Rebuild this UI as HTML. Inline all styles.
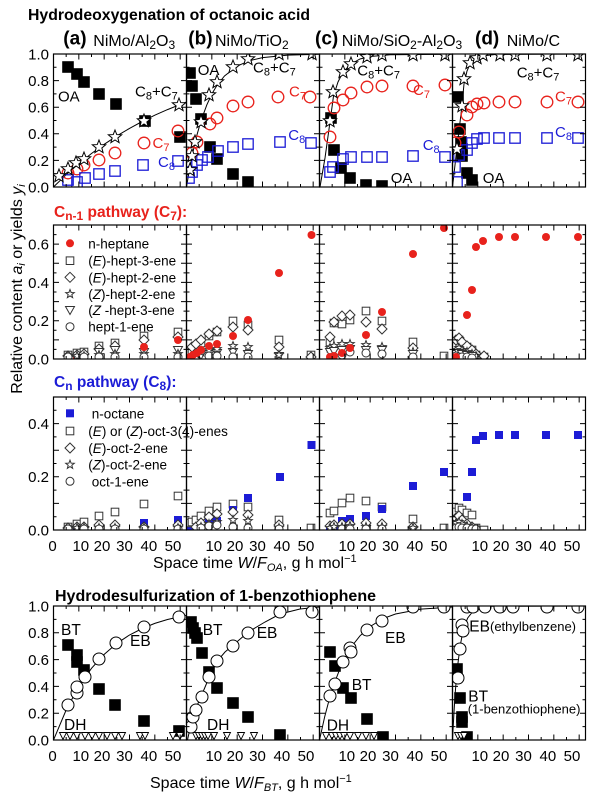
<!DOCTYPE html>
<html><head><meta charset="utf-8"><style>
html,body{margin:0;padding:0;background:#fff}
svg text{font-family:"Liberation Sans",Arial,sans-serif}
.ln{fill:none;stroke:#000;stroke-width:1}
</style></head><body>
<svg xmlns="http://www.w3.org/2000/svg" width="600" height="801" viewBox="0 0 600 801">
<defs>
<rect id="BS" x="-5.8" y="-5.8" width="11.6" height="11.6" fill="#000"/>
<circle id="RC" r="5.8" fill="none" stroke="#e8221c" stroke-width="1.3"/>
<rect id="BQ" x="-5.2" y="-5.2" width="10.4" height="10.4" fill="none" stroke="#1c1cd6" stroke-width="1.3"/>
<path id="ST" d="M0-7L1.76-2.43L6.66-2.16L2.85 .93L4.11 5.66L0 3L-4.11 5.66L-2.85 .93L-6.66-2.16L-1.76-2.43Z" fill="#fff" stroke="#000" stroke-width="1"/>
<circle id="WC" r="6" fill="#fff" stroke="#000" stroke-width="1"/>
<circle id="rd" r="4" fill="#e8221c"/>
<rect id="sq" x="-3.8" y="-3.8" width="7.6" height="7.6" fill="#fff" stroke="#333" stroke-width="1"/>
<path id="dm" d="M0-5L5 0L0 5L-5 0Z" fill="#fff" stroke="#333" stroke-width="1"/>
<path id="ss" d="M0-4.5L1.12-1.54L4.28-1.39L1.81 .59L2.65 3.64L0 1.9L-2.65 3.64L-1.81 .59L-4.28-1.39L-1.12-1.54Z" fill="#fff" stroke="#333" stroke-width="1"/>
<path id="tr" d="M-4.5-3.5H4.5L0 4.5Z" fill="#fff" stroke="#333" stroke-width="1"/>
<circle id="sc" r="4" fill="#fff" stroke="#333" stroke-width="1"/>
<rect id="bf" x="-4" y="-4" width="8" height="8" fill="#1c1cd6"/>
<path id="dh" d="M-3.5-3.5H3.5L0 3.5Z" fill="#fff" stroke="#000" stroke-width=".9"/>
<path id="xt" d="M12.67 0v-3M25.33 0v-5.5M38 0v-3M50.67 0v-5.5M63.33 0v-3M76 0v-5.5M88.67 0v-3M101.33 0v-5.5M114 0v-3M126.67 0v-5.5"/>
<path id="yt1" d="M0-13.3h3M0-26.6h5.5M0-39.9h3M0-53.2h5.5M0-66.5h3M0-79.8h5.5M0-93.1h3M0-106.4h5.5M0-119.7h3"/>
<path id="yt4" d="M0-13.4h3M0-26.8h5.5M0-40.2h3M0-53.6h5.5M0-67h3M0-80.4h5.5M0-93.8h3M0-107.2h5.5M0-120.6h3"/>
<path id="yt2" d="M0-9.57h3M0-19.14h5.5M0-28.71h3M0-38.29h5.5M0-47.86h3M0-57.43h5.5M0-67h3M0-76.57h5.5M0-86.14h3M0-95.71h5.5M0-105.29h3M0-114.86h5.5M0-124.43h3"/>
<g id="tk1"><use href="#xt"/><use href="#xt" transform="translate(0,-133) scale(1,-1)"/><use href="#yt1"/><use href="#yt1" transform="translate(133,0) scale(-1,1)"/><rect x="0" y="-133" width="133" height="133" fill="none" stroke-width="1.2"/></g>
<g id="tk2"><use href="#xt"/><use href="#xt" transform="translate(0,-134) scale(1,-1)"/><use href="#yt2"/><use href="#yt2" transform="translate(133,0) scale(-1,1)"/><rect x="0" y="-134" width="133" height="134" fill="none" stroke-width="1.2"/></g>
<g id="tk4"><use href="#xt"/><use href="#xt" transform="translate(0,-134) scale(1,-1)"/><use href="#yt4"/><use href="#yt4" transform="translate(133,0) scale(-1,1)"/><rect x="0" y="-134" width="133" height="134" fill="none" stroke-width="1.2"/></g>
</defs>
<rect width="600" height="801" fill="#fff"/>

<!-- Titles -->
<text x="28" y="20" font-weight="bold" font-size="16" textLength="282" lengthAdjust="spacingAndGlyphs">Hydrodeoxygenation of octanoic acid</text>
<text x="63.3" y="44.5" font-weight="bold" font-size="19">(a)</text>
<text x="93.3" y="46" font-size="16">NiMo/Al<tspan font-size="12" dy="3">2</tspan><tspan dy="-3">O</tspan><tspan font-size="12" dy="3">3</tspan></text>
<text x="188.3" y="44.5" font-weight="bold" font-size="19">(b)</text>
<text x="215" y="46" font-size="16">NiMo/TiO<tspan font-size="12" dy="3">2</tspan></text>
<text x="315" y="44.5" font-weight="bold" font-size="19">(c)</text>
<text x="341.7" y="46" font-size="16">NiMo/SiO<tspan font-size="12" dy="3">2</tspan><tspan dy="-3">-Al</tspan><tspan font-size="12" dy="3">2</tspan><tspan dy="-3">O</tspan><tspan font-size="12" dy="3">3</tspan></text>
<text x="475" y="44.5" font-weight="bold" font-size="19">(d)</text>
<text x="506.7" y="46" font-size="16">NiMo/C</text>

<!-- Y tick labels -->
<g font-size="15" text-anchor="end">
<text x="49" y="59.4">1.0</text><text x="49" y="86">0.8</text><text x="49" y="112.6">0.6</text><text x="49" y="139.2">0.4</text><text x="49" y="165.8">0.2</text><text x="49" y="192.4">0.0</text>
<text x="49" y="249.5">0.6</text><text x="49" y="287.8">0.4</text><text x="49" y="326.1">0.2</text><text x="49" y="364.4">0.0</text>
<text x="49" y="429">0.4</text><text x="49" y="482.2">0.2</text><text x="49" y="535.4">0.0</text>
<text x="49" y="611.4">1.0</text><text x="49" y="638.2">0.8</text><text x="49" y="665">0.6</text><text x="49" y="691.8">0.4</text><text x="49" y="718.6">0.2</text><text x="49" y="745.4">0.0</text>
</g>

<!-- X tick labels -->
<g font-size="15" text-anchor="middle">
<text x="52.5" y="551">0</text><text x="80.8" y="551">10</text><text x="102" y="551">20</text><text x="124.5" y="551">30</text><text x="148.9" y="551">40</text><text x="173" y="551">50</text>
<text x="213.8" y="551">10</text><text x="235" y="551">20</text><text x="257.5" y="551">30</text><text x="281.9" y="551">40</text><text x="306" y="551">50</text>
<text x="346.8" y="551">10</text><text x="368" y="551">20</text><text x="390.5" y="551">30</text><text x="414.9" y="551">40</text><text x="439" y="551">50</text>
<text x="479.8" y="551">10</text><text x="501" y="551">20</text><text x="523.5" y="551">30</text><text x="547.9" y="551">40</text><text x="572" y="551">50</text>
<text x="52.5" y="761">0</text><text x="80.8" y="761">10</text><text x="102" y="761">20</text><text x="124.5" y="761">30</text><text x="148.9" y="761">40</text><text x="173" y="761">50</text>
<text x="213.8" y="761">10</text><text x="235" y="761">20</text><text x="257.5" y="761">30</text><text x="281.9" y="761">40</text><text x="306" y="761">50</text>
<text x="346.8" y="761">10</text><text x="368" y="761">20</text><text x="390.5" y="761">30</text><text x="414.9" y="761">40</text><text x="439" y="761">50</text>
<text x="479.8" y="761">10</text><text x="501" y="761">20</text><text x="523.5" y="761">30</text><text x="547.9" y="761">40</text><text x="572" y="761">50</text>
</g>

<!-- axis titles -->
<text transform="translate(22,289) rotate(-90)" text-anchor="middle" font-size="16">Relative content <tspan font-style="italic">a</tspan><tspan font-size="11" dy="3" font-style="italic">i</tspan><tspan dy="-3"> or yields </tspan><tspan font-style="italic">y</tspan><tspan font-size="11" dy="3" font-style="italic">i</tspan></text>
<text x="153" y="568" font-size="16">Space time <tspan font-style="italic">W</tspan>/<tspan font-style="italic">F</tspan><tspan font-size="11" dy="3" font-style="italic">OA</tspan><tspan dy="-3">, g h mol</tspan><tspan font-size="11" dy="-6">−1</tspan></text>
<text x="150" y="788" font-size="16">Space time <tspan font-style="italic">W</tspan>/<tspan font-style="italic">F</tspan><tspan font-size="11" dy="3" font-style="italic">BT</tspan><tspan dy="-3">, g h mol</tspan><tspan font-size="11" dy="-6">−1</tspan></text>

<text x="54" y="217" fill="#e8221c" font-weight="bold" font-size="15.5">C<tspan font-size="12" dy="3">n-1</tspan><tspan dy="-3"> pathway (C</tspan><tspan font-size="12" dy="3">7</tspan><tspan dy="-3">):</tspan></text>
<text x="54" y="387" fill="#1c1cd6" font-weight="bold" font-size="15.5">C<tspan font-size="12" dy="3">n</tspan><tspan dy="-3"> pathway (C</tspan><tspan font-size="12" dy="3">8</tspan><tspan dy="-3">):</tspan></text>
<text x="55" y="601" font-weight="bold" font-size="16" textLength="321" lengthAdjust="spacingAndGlyphs">Hydrodesulfurization of 1-benzothiophene</text>

<!-- ===== ROW 1 ===== -->
<svg x="53.5" y="54" width="133" height="133" viewBox="53.5 54 133 133">
<polyline class="ln" points="53.5,187 66.2,174.7 78.8,163.6 91.5,153.5 104.2,144.3 116.8,135.9 129.5,128.4 142.2,121.5 154.8,115.2 167.5,109.6 186.5,102"/>
<use href="#BS" x="68" y="67"/><use href="#BS" x="77" y="74"/><use href="#BS" x="84" y="82"/><use href="#BS" x="99" y="94"/><use href="#BS" x="116" y="104"/><use href="#BS" x="145" y="121"/><use href="#BS" x="180" y="137"/>
<use href="#RC" x="68" y="173"/><use href="#RC" x="77" y="169"/><use href="#RC" x="84" y="165"/><use href="#RC" x="99" y="160"/><use href="#RC" x="115" y="153"/><use href="#RC" x="144" y="143"/><use href="#RC" x="178" y="131"/>
<use href="#BQ" x="68" y="180"/><use href="#BQ" x="77" y="182"/><use href="#BQ" x="85" y="178"/><use href="#BQ" x="99" y="174"/><use href="#BQ" x="115" y="171"/><use href="#BQ" x="143" y="165"/><use href="#BQ" x="178" y="161"/>
<use href="#ST" x="59" y="176"/><use href="#ST" x="68" y="169"/><use href="#ST" x="76" y="163"/><use href="#ST" x="84" y="159"/><use href="#ST" x="99" y="147"/><use href="#ST" x="115" y="137"/><use href="#ST" x="144" y="121"/><use href="#ST" x="179" y="105"/>
</svg>
<svg x="186.5" y="54" width="133" height="133" viewBox="186.5 54 133 133">
<polyline class="ln" points="186.5,187 189,172 191.6,158.7 194.1,146.8 196.6,136.3 199.2,127 201.7,118.8 206.8,104.9 211.8,94 216.9,85.5 224.5,76 237.2,66.1 249.8,60.6 262.5,57.6 287.8,55.1 319.5,54.2"/>
<use href="#BS" x="190" y="73"/><use href="#BS" x="192" y="86"/><use href="#BS" x="196" y="99"/><use href="#BS" x="201" y="119"/><use href="#BS" x="210" y="147"/><use href="#BS" x="217" y="159"/><use href="#BS" x="233" y="174"/><use href="#BS" x="248" y="182"/>
<use href="#RC" x="192" y="153"/><use href="#RC" x="197" y="142"/><use href="#RC" x="210" y="124"/><use href="#RC" x="217" y="118"/><use href="#RC" x="233" y="106"/><use href="#RC" x="248" y="102"/><use href="#RC" x="278" y="97"/><use href="#RC" x="310" y="97"/>
<use href="#BQ" x="189" y="178"/><use href="#BQ" x="192" y="172"/><use href="#BQ" x="197" y="165"/><use href="#BQ" x="202" y="160"/><use href="#BQ" x="208" y="157"/><use href="#BQ" x="218" y="151"/><use href="#BQ" x="233" y="147"/><use href="#BQ" x="248" y="144"/><use href="#BQ" x="280" y="142"/><use href="#BQ" x="311" y="143"/>
<use href="#ST" x="190" y="170"/><use href="#ST" x="192" y="156"/><use href="#ST" x="195" y="142"/><use href="#ST" x="201" y="122"/><use href="#ST" x="209" y="95"/><use href="#ST" x="217" y="82"/><use href="#ST" x="233" y="67"/><use href="#ST" x="248" y="59"/><use href="#ST" x="279" y="54"/><use href="#ST" x="312" y="54"/>
</svg>
<svg x="319.5" y="54" width="133" height="133" viewBox="319.5 54 133 133">
<polyline class="ln" points="320,187 325,158 330,122 333.5,96 338,82 343,72 351,64 360,59 370,56.5 390,54.8 452.5,54.2"/>
<use href="#BS" x="331" y="118"/><use href="#BS" x="334" y="150"/><use href="#BS" x="341" y="168"/><use href="#BS" x="350" y="178"/><use href="#BS" x="366" y="185"/><use href="#BS" x="382" y="186"/>
<use href="#RC" x="330" y="137"/><use href="#RC" x="334" y="108"/><use href="#RC" x="343" y="100"/><use href="#RC" x="351" y="93"/><use href="#RC" x="367" y="87"/><use href="#RC" x="382" y="86"/><use href="#RC" x="413" y="86"/><use href="#RC" x="445" y="85"/>
<use href="#BQ" x="330" y="172"/><use href="#BQ" x="333" y="167"/><use href="#BQ" x="343" y="159"/><use href="#BQ" x="351" y="157"/><use href="#BQ" x="367" y="157"/><use href="#BQ" x="382" y="157"/><use href="#BQ" x="413" y="156"/><use href="#BQ" x="445" y="157"/>
<use href="#ST" x="330" y="121"/><use href="#ST" x="333" y="92"/><use href="#ST" x="343" y="72"/><use href="#ST" x="351" y="64"/><use href="#ST" x="367" y="57"/><use href="#ST" x="382" y="55"/><use href="#ST" x="413" y="55"/><use href="#ST" x="445" y="55"/>
</svg>
<svg x="452.5" y="54" width="133" height="133" viewBox="452.5 54 133 133">
<polyline class="ln" points="452.5,187 456.7,150 461.7,108 464,84 467,71 470,64 475,59 482,56 495,54.5 585.5,54"/>
<use href="#BS" x="458" y="97"/><use href="#BS" x="460" y="129"/><use href="#BS" x="461" y="142"/><use href="#BS" x="462" y="149"/><use href="#BS" x="462" y="156"/><use href="#BS" x="467" y="173"/><use href="#BS" x="472" y="180"/>
<use href="#RC" x="455" y="143"/><use href="#RC" x="459" y="132"/><use href="#RC" x="467" y="115"/><use href="#RC" x="472" y="107"/><use href="#RC" x="477" y="104"/><use href="#RC" x="484" y="103"/><use href="#RC" x="499" y="102"/><use href="#RC" x="515" y="102"/><use href="#RC" x="547" y="102"/><use href="#RC" x="578" y="102"/>
<use href="#BQ" x="455" y="167"/><use href="#BQ" x="457" y="182"/><use href="#BQ" x="459" y="155"/><use href="#BQ" x="467" y="150"/><use href="#BQ" x="472" y="143"/><use href="#BQ" x="477" y="139"/><use href="#BQ" x="484" y="138"/><use href="#BQ" x="499" y="138"/><use href="#BQ" x="515" y="138"/><use href="#BQ" x="547" y="138"/><use href="#BQ" x="578" y="138"/>
<use href="#ST" x="457" y="149"/><use href="#ST" x="462" y="106"/><use href="#ST" x="464" y="79"/><use href="#ST" x="470" y="63"/><use href="#ST" x="477" y="58"/><use href="#ST" x="483" y="55"/><use href="#ST" x="500" y="55"/><use href="#ST" x="515" y="55"/><use href="#ST" x="547" y="55"/><use href="#ST" x="578" y="55"/>
</svg>
<!-- row 1 labels -->
<g font-size="15">
<text x="58" y="101.7">OA</text>
<text x="135" y="96.5">C<tspan font-size="11" dy="3">8</tspan><tspan dy="-3">+C</tspan><tspan font-size="11" dy="3">7</tspan></text>
<text x="152.5" y="148" fill="#e8221c">C<tspan font-size="11" dy="3">7</tspan></text>
<text x="158" y="167" fill="#1c1cd6">C<tspan font-size="11" dy="3">8</tspan></text>
<text x="197.7" y="75">OA</text>
<text x="253" y="72.7">C<tspan font-size="11" dy="3">8</tspan><tspan dy="-3">+C</tspan><tspan font-size="11" dy="3">7</tspan></text>
<text x="289" y="96.7" fill="#e8221c">C<tspan font-size="11" dy="3">7</tspan></text>
<text x="288.3" y="140" fill="#1c1cd6">C<tspan font-size="11" dy="3">8</tspan></text>
<text x="357.3" y="75.5">C<tspan font-size="11" dy="3">8</tspan><tspan dy="-3">+C</tspan><tspan font-size="11" dy="3">7</tspan></text>
<text x="413" y="95" fill="#e8221c">C<tspan font-size="11" dy="3">7</tspan></text>
<text x="422.7" y="150" fill="#1c1cd6">C<tspan font-size="11" dy="3">8</tspan></text>
<text x="390.7" y="183">OA</text>
<text x="516.7" y="77.5">C<tspan font-size="11" dy="3">8</tspan><tspan dy="-3">+C</tspan><tspan font-size="11" dy="3">7</tspan></text>
<text x="555" y="101.5" fill="#e8221c">C<tspan font-size="11" dy="3">7</tspan></text>
<text x="555" y="137" fill="#1c1cd6">C<tspan font-size="11" dy="3">8</tspan></text>
<text x="482.7" y="183">OA</text>
</g>

<!-- ===== ROW 2 (C7) ===== -->
<svg x="53.5" y="225" width="133" height="134" viewBox="53.5 225 133 134">
<use href="#rd" x="68" y="358"/><use href="#rd" x="77" y="358"/><use href="#rd" x="84" y="358"/><use href="#rd" x="99" y="357"/><use href="#rd" x="115" y="357"/>
<use href="#sq" x="68" y="355"/><use href="#sq" x="77" y="353"/><use href="#sq" x="84" y="352"/><use href="#sq" x="99" y="346"/><use href="#sq" x="115" y="343"/><use href="#sq" x="144" y="336"/><use href="#sq" x="178" y="332"/>
<use href="#dm" x="68" y="356"/><use href="#dm" x="77" y="355"/><use href="#dm" x="84" y="354"/><use href="#dm" x="99" y="349"/><use href="#dm" x="115" y="346"/><use href="#dm" x="144" y="340"/><use href="#dm" x="178" y="337"/>
<use href="#tr" x="99" y="352"/><use href="#tr" x="115" y="350"/><use href="#tr" x="144" y="352"/><use href="#tr" x="178" y="350"/>
<use href="#ss" x="68" y="357"/><use href="#ss" x="77" y="356"/><use href="#ss" x="84" y="356"/><use href="#ss" x="99" y="355"/><use href="#ss" x="115" y="354"/><use href="#ss" x="144" y="354"/><use href="#ss" x="178" y="354"/>
<use href="#sc" x="68" y="357"/><use href="#sc" x="84" y="357"/><use href="#sc" x="99" y="357"/><use href="#sc" x="115" y="357"/><use href="#sc" x="144" y="357"/><use href="#sc" x="178" y="357"/>
<use href="#rd" x="144" y="347"/><use href="#rd" x="178" y="340"/>
</svg>
<svg x="186.5" y="225" width="133" height="134" viewBox="186.5 225 133 134">
<use href="#sq" x="190" y="353"/><use href="#sq" x="192" y="351"/><use href="#sq" x="196" y="348"/><use href="#sq" x="201" y="343"/><use href="#sq" x="209" y="336"/><use href="#sq" x="217" y="332"/><use href="#sq" x="233" y="321"/><use href="#sq" x="248" y="325"/><use href="#sq" x="279" y="340"/><use href="#sq" x="311" y="355"/>
<use href="#dm" x="192" y="347"/><use href="#dm" x="196" y="344"/><use href="#dm" x="201" y="340"/><use href="#dm" x="209" y="334"/><use href="#dm" x="217" y="331"/><use href="#dm" x="233" y="327"/><use href="#dm" x="248" y="330"/><use href="#dm" x="279" y="347"/><use href="#dm" x="311" y="357"/>
<use href="#tr" x="201" y="355"/><use href="#tr" x="209" y="354"/><use href="#tr" x="217" y="353"/><use href="#tr" x="233" y="352"/><use href="#tr" x="248" y="354"/><use href="#tr" x="279" y="356"/>
<use href="#ss" x="196" y="354"/><use href="#ss" x="201" y="352"/><use href="#ss" x="209" y="350"/><use href="#ss" x="217" y="349"/><use href="#ss" x="233" y="346"/><use href="#ss" x="248" y="347"/><use href="#ss" x="279" y="355"/>
<use href="#sc" x="209" y="356"/><use href="#sc" x="217" y="356"/><use href="#sc" x="233" y="357"/><use href="#sc" x="248" y="357"/>
<use href="#rd" x="190" y="357"/><use href="#rd" x="193" y="355"/><use href="#rd" x="197" y="353"/><use href="#rd" x="201" y="350"/><use href="#rd" x="209" y="346"/><use href="#rd" x="217" y="344"/><use href="#rd" x="233" y="336"/><use href="#rd" x="248" y="320"/><use href="#rd" x="279" y="273"/><use href="#rd" x="311.5" y="235"/>
</svg>
<svg x="319.5" y="225" width="133" height="134" viewBox="319.5 225 133 134">
<use href="#sq" x="330" y="342"/><use href="#sq" x="334" y="323"/><use href="#sq" x="342" y="324"/><use href="#sq" x="350" y="320"/><use href="#sq" x="366" y="311"/><use href="#sq" x="382" y="321"/><use href="#sq" x="413" y="342"/><use href="#sq" x="444" y="356"/>
<use href="#dm" x="330" y="337"/><use href="#dm" x="334" y="322"/><use href="#dm" x="342" y="316"/><use href="#dm" x="350" y="315"/><use href="#dm" x="366" y="322"/><use href="#dm" x="382" y="329"/><use href="#dm" x="413" y="348"/>
<use href="#ss" x="330" y="348"/><use href="#ss" x="334" y="346"/><use href="#ss" x="342" y="344"/><use href="#ss" x="350" y="344"/><use href="#ss" x="366" y="345"/><use href="#ss" x="382" y="347"/><use href="#ss" x="413" y="352"/>
<use href="#tr" x="330" y="352"/><use href="#tr" x="334" y="351"/><use href="#tr" x="342" y="350"/><use href="#tr" x="350" y="349"/><use href="#tr" x="366" y="350"/><use href="#tr" x="382" y="350"/><use href="#tr" x="413" y="354"/>
<use href="#sc" x="342" y="355"/><use href="#sc" x="350" y="352"/><use href="#sc" x="366" y="353"/><use href="#sc" x="382" y="354"/><use href="#sc" x="413" y="357"/>
<use href="#rd" x="330" y="357"/><use href="#rd" x="334" y="356"/><use href="#rd" x="342" y="353"/><use href="#rd" x="350" y="348"/><use href="#rd" x="366" y="335"/><use href="#rd" x="382" y="312"/><use href="#rd" x="413" y="254"/><use href="#rd" x="444" y="228"/>
</svg>
<svg x="452.5" y="225" width="133" height="134" viewBox="452.5 225 133 134">
<use href="#sq" x="456" y="346"/><use href="#sq" x="459" y="340"/><use href="#sq" x="462" y="345"/><use href="#sq" x="467" y="347"/><use href="#sq" x="472" y="350"/><use href="#sq" x="476" y="355"/><use href="#sq" x="484" y="357"/>
<use href="#dm" x="456" y="340"/><use href="#dm" x="459" y="338"/><use href="#dm" x="462" y="342"/><use href="#dm" x="467" y="346"/><use href="#dm" x="472" y="350"/><use href="#dm" x="476" y="354"/><use href="#dm" x="484" y="356"/>
<use href="#ss" x="456" y="350"/><use href="#ss" x="459" y="348"/><use href="#ss" x="462" y="350"/><use href="#ss" x="467" y="352"/><use href="#ss" x="472" y="354"/><use href="#ss" x="476" y="356"/>
<use href="#tr" x="456" y="354"/><use href="#tr" x="459" y="353"/><use href="#tr" x="462" y="354"/><use href="#tr" x="467" y="355"/><use href="#tr" x="472" y="356"/>
<use href="#sc" x="456" y="356"/><use href="#sc" x="459" y="357"/><use href="#sc" x="462" y="357"/><use href="#sc" x="467" y="357"/><use href="#sc" x="472" y="358"/>
<use href="#rd" x="456" y="357"/><use href="#rd" x="467" y="315"/><use href="#rd" x="472" y="290"/><use href="#rd" x="476" y="247"/><use href="#rd" x="483" y="241"/><use href="#rd" x="499" y="237"/><use href="#rd" x="515" y="237"/><use href="#rd" x="546" y="237"/><use href="#rd" x="578" y="237"/>
</svg>
<!-- C7 legend -->
<g font-size="13.5">
<use href="#rd" x="70" y="243.3"/><text x="88.3" y="248.3">n-heptane</text>
<use href="#sq" x="70" y="260.7"/><text x="88.3" y="265.7">(<tspan font-style="italic">E</tspan>)-hept-3-ene</text>
<use href="#dm" x="70" y="277.3"/><text x="88.3" y="282.3">(<tspan font-style="italic">E</tspan>)-hept-2-ene</text>
<use href="#ss" x="70" y="294"/><text x="88.3" y="299">(<tspan font-style="italic">Z</tspan>)-hept-2-ene</text>
<use href="#tr" x="70" y="310"/><text x="88.3" y="315">(<tspan font-style="italic">Z</tspan> -hept-3-ene</text>
<use href="#sc" x="70" y="326.7"/><text x="88.3" y="331.7">hept-1-ene</text>
</g>

<!-- ===== ROW 3 (C8) ===== -->
<svg x="53.5" y="397" width="133" height="133" viewBox="53.5 397 133 133">
<use href="#bf" x="68" y="529"/><use href="#bf" x="77" y="529"/><use href="#bf" x="84" y="528"/><use href="#bf" x="99" y="528"/><use href="#bf" x="115" y="528"/><use href="#bf" x="144" y="523"/><use href="#bf" x="178" y="520"/>
<use href="#sq" x="68" y="527"/><use href="#sq" x="77" y="524"/><use href="#sq" x="84" y="522"/><use href="#sq" x="99" y="516"/><use href="#sq" x="115" y="512"/><use href="#sq" x="144" y="504"/><use href="#sq" x="178" y="496"/>
<use href="#dm" x="68" y="528"/><use href="#dm" x="77" y="527"/><use href="#dm" x="84" y="527"/><use href="#dm" x="99" y="525"/><use href="#dm" x="115" y="525"/><use href="#dm" x="144" y="527"/><use href="#dm" x="178" y="525"/>
<use href="#ss" x="77" y="528"/><use href="#ss" x="84" y="528"/><use href="#ss" x="99" y="528"/><use href="#ss" x="115" y="528"/><use href="#ss" x="144" y="528"/><use href="#ss" x="178" y="528"/>
<use href="#sc" x="68" y="529"/><use href="#sc" x="84" y="529"/><use href="#sc" x="99" y="529"/><use href="#sc" x="115" y="529"/><use href="#sc" x="144" y="529"/><use href="#sc" x="178" y="529"/>
</svg>
<svg x="186.5" y="397" width="133" height="133" viewBox="186.5 397 133 133">
<use href="#bf" x="190" y="529"/><use href="#bf" x="192" y="529"/><use href="#bf" x="196" y="528"/><use href="#bf" x="201" y="527"/>
<use href="#sq" x="190" y="523"/><use href="#sq" x="192" y="522"/><use href="#sq" x="196" y="520"/><use href="#sq" x="201" y="516"/><use href="#sq" x="209" y="511"/><use href="#sq" x="217" y="507"/><use href="#sq" x="233" y="504"/><use href="#sq" x="248" y="507"/><use href="#sq" x="279" y="520"/><use href="#sq" x="311" y="528"/>
<use href="#bf" x="209" y="522"/><use href="#bf" x="217" y="521"/><use href="#bf" x="233" y="510"/><use href="#bf" x="248" y="498"/><use href="#bf" x="280" y="477"/><use href="#bf" x="311.5" y="445"/>
<use href="#dm" x="196" y="527"/><use href="#dm" x="201" y="523"/><use href="#dm" x="209" y="517"/><use href="#dm" x="217" y="514"/><use href="#dm" x="233" y="512"/><use href="#dm" x="248" y="515"/><use href="#dm" x="279" y="525"/>
<use href="#ss" x="201" y="527"/><use href="#ss" x="209" y="524"/><use href="#ss" x="217" y="522"/><use href="#ss" x="233" y="520"/><use href="#ss" x="248" y="521"/><use href="#ss" x="279" y="528"/>
<use href="#sc" x="201" y="528"/><use href="#sc" x="209" y="526"/><use href="#sc" x="217" y="525"/><use href="#sc" x="233" y="527"/><use href="#sc" x="248" y="528"/><use href="#sc" x="279" y="529"/>
</svg>
<svg x="319.5" y="397" width="133" height="133" viewBox="319.5 397 133 133">
<use href="#sq" x="330" y="513"/><use href="#sq" x="334" y="511"/><use href="#sq" x="342" y="503"/><use href="#sq" x="350" y="498"/><use href="#sq" x="366" y="501"/><use href="#sq" x="382" y="507"/><use href="#sq" x="413" y="519"/><use href="#sq" x="444" y="528"/>
<use href="#bf" x="330" y="528"/><use href="#bf" x="334" y="527"/><use href="#bf" x="342" y="521"/><use href="#bf" x="350" y="519"/><use href="#bf" x="366" y="516"/><use href="#bf" x="382" y="509"/><use href="#bf" x="413" y="486"/><use href="#bf" x="444" y="472"/>
<use href="#dm" x="330" y="526"/><use href="#dm" x="334" y="525"/><use href="#dm" x="342" y="524"/><use href="#dm" x="350" y="524"/><use href="#dm" x="366" y="523"/><use href="#dm" x="382" y="524"/><use href="#dm" x="413" y="527"/>
<use href="#ss" x="330" y="528"/><use href="#ss" x="334" y="527"/><use href="#ss" x="342" y="527"/><use href="#ss" x="350" y="526"/><use href="#ss" x="366" y="527"/><use href="#ss" x="382" y="527"/><use href="#ss" x="413" y="528"/>
<use href="#sc" x="342" y="529"/><use href="#sc" x="350" y="529"/><use href="#sc" x="366" y="529"/><use href="#sc" x="382" y="529"/>
</svg>
<svg x="452.5" y="397" width="133" height="133" viewBox="452.5 397 133 133">
<use href="#sq" x="456" y="512"/><use href="#sq" x="459" y="508"/><use href="#sq" x="462" y="510"/><use href="#sq" x="467" y="513"/><use href="#sq" x="472" y="515"/><use href="#sq" x="476" y="528"/><use href="#sq" x="484" y="530"/>
<use href="#dm" x="456" y="518"/><use href="#dm" x="459" y="516"/><use href="#dm" x="462" y="520"/><use href="#dm" x="467" y="524"/><use href="#dm" x="472" y="527"/>
<use href="#ss" x="456" y="523"/><use href="#ss" x="459" y="522"/><use href="#ss" x="462" y="524"/><use href="#ss" x="467" y="526"/><use href="#ss" x="472" y="528"/>
<use href="#sc" x="456" y="528"/><use href="#sc" x="459" y="527"/><use href="#sc" x="462" y="528"/><use href="#sc" x="467" y="528"/><use href="#sc" x="472" y="529"/><use href="#sc" x="476" y="529"/>
<use href="#bf" x="467" y="497"/><use href="#bf" x="472" y="472"/><use href="#bf" x="476" y="440"/><use href="#bf" x="483" y="436"/><use href="#bf" x="499" y="435"/><use href="#bf" x="515" y="435"/><use href="#bf" x="546" y="435"/><use href="#bf" x="578" y="435"/>
</svg>
<!-- C8 legend -->
<g font-size="13.5">
<use href="#bf" x="70" y="413.3"/><text x="91.7" y="418.3">n-octane</text>
<use href="#sq" x="70" y="431"/><text x="88.3" y="436">(<tspan font-style="italic">E</tspan>) or (<tspan font-style="italic">Z</tspan>)-oct-3(4)-enes</text>
<use href="#dm" x="70" y="448"/><text x="88.3" y="453">(<tspan font-style="italic">E</tspan>)-oct-2-ene</text>
<use href="#ss" x="70" y="464.7"/><text x="88.3" y="469.7">(<tspan font-style="italic">Z</tspan>)-oct-2-ene</text>
<use href="#sc" x="70" y="481.3"/><text x="91.7" y="486.3">oct-1-ene</text>
</g>

<!-- ===== ROW 4 (HDS) ===== -->
<svg x="53.5" y="606" width="133" height="134" viewBox="53.5 606 133 134">
<polyline class="ln" points="53.5,740 66.2,709.9 78.8,686.4 91.5,668.3 104.2,654.4 116.8,643.4 129.5,635 142.2,628.5 154.8,623.4 167.5,619.5 186.5,615.2"/>
<use href="#BS" x="68" y="645"/><use href="#BS" x="77" y="655"/><use href="#BS" x="77" y="662"/><use href="#BS" x="84" y="670"/><use href="#BS" x="99" y="689"/><use href="#BS" x="115" y="705"/><use href="#BS" x="144" y="721"/><use href="#BS" x="179" y="731"/>
<use href="#dh" x="63" y="736"/><use href="#dh" x="70" y="736"/><use href="#dh" x="77" y="736"/><use href="#dh" x="85" y="736"/><use href="#dh" x="92" y="736"/><use href="#dh" x="99" y="736"/><use href="#dh" x="107" y="736"/><use href="#dh" x="115" y="736"/><use href="#dh" x="122" y="736"/><use href="#dh" x="140" y="736"/><use href="#dh" x="145" y="736"/><use href="#dh" x="173" y="736"/><use href="#dh" x="180" y="736"/>
<use href="#WC" x="68" y="705"/><use href="#WC" x="77" y="693"/><use href="#WC" x="77" y="687"/><use href="#WC" x="85" y="677"/><use href="#WC" x="99" y="659"/><use href="#WC" x="116" y="643"/><use href="#WC" x="144" y="627"/><use href="#WC" x="179" y="617"/>
</svg>
<svg x="186.5" y="606" width="133" height="134" viewBox="186.5 606 133 134">
<polyline class="ln" points="187.5,740 189,733 190.7,726.7 192.7,717 196,708 201.7,695 209.3,677 217.3,661 225,652 233.3,645 248.3,632 265,622 280,614 300,609 319.5,607"/>
<use href="#BS" x="191" y="622"/><use href="#BS" x="193" y="628"/><use href="#BS" x="195" y="633"/><use href="#BS" x="197" y="638"/><use href="#BS" x="202" y="653"/><use href="#BS" x="209" y="672"/><use href="#BS" x="217" y="688"/><use href="#BS" x="233" y="703"/><use href="#BS" x="248" y="717"/><use href="#BS" x="280" y="735"/>
<use href="#dh" x="196" y="736"/><use href="#dh" x="199" y="736"/><use href="#dh" x="202" y="736"/><use href="#dh" x="205" y="736"/><use href="#dh" x="208" y="736"/><use href="#dh" x="214" y="736"/><use href="#dh" x="227" y="736"/><use href="#dh" x="241" y="736"/><use href="#dh" x="254" y="736"/>
<use href="#WC" x="191" y="727"/><use href="#WC" x="193" y="717"/><use href="#WC" x="196" y="710"/><use href="#WC" x="202" y="697"/><use href="#WC" x="209" y="677"/><use href="#WC" x="217" y="661"/><use href="#WC" x="233" y="646"/><use href="#WC" x="248" y="633"/><use href="#WC" x="280" y="612"/><use href="#WC" x="312" y="612"/>
</svg>
<svg x="319.5" y="606" width="133" height="134" viewBox="319.5 606 133 134">
<polyline class="ln" points="319.5,740 324.6,717.1 329.6,698 334.7,682.3 339.8,669.1 344.8,658.4 352.4,645.5 360,635.8 370.2,626.5 382.8,618.7 395.5,614 420.8,609.1 452.5,607"/>
<use href="#BS" x="330" y="652"/><use href="#BS" x="335" y="666"/><use href="#BS" x="343" y="688"/><use href="#BS" x="351" y="698"/><use href="#BS" x="367" y="719"/><use href="#BS" x="383" y="737"/>
<use href="#dh" x="326" y="736"/><use href="#dh" x="332" y="736"/><use href="#dh" x="336" y="736"/><use href="#dh" x="340" y="736"/><use href="#dh" x="344" y="736"/><use href="#dh" x="350" y="736"/><use href="#dh" x="358" y="736"/><use href="#dh" x="366" y="736"/><use href="#dh" x="374" y="736"/>
<use href="#WC" x="330" y="696"/><use href="#WC" x="335" y="684"/><use href="#WC" x="343" y="662"/><use href="#WC" x="350" y="648"/><use href="#WC" x="351" y="652"/><use href="#WC" x="367" y="630"/><use href="#WC" x="382" y="621"/><use href="#WC" x="413" y="607"/><use href="#WC" x="444" y="607"/>
</svg>
<svg x="452.5" y="606" width="133" height="134" viewBox="452.5 606 133 134">
<polyline class="ln" points="452.5,740 453.8,715.7 455,695.8 456.3,679.6 457.6,666.2 460.1,646.3 462.6,633 465.2,624 467.7,618 472.8,611.5 477.8,608.4 490.5,606.3 585.5,606"/>
<use href="#BS" x="457" y="669"/><use href="#BS" x="460" y="698"/><use href="#BS" x="462" y="717"/><use href="#BS" x="462" y="722"/><use href="#BS" x="467" y="737"/>
<use href="#dh" x="458" y="736"/><use href="#dh" x="461" y="736"/><use href="#dh" x="464" y="736"/>
<use href="#WC" x="458" y="678"/><use href="#WC" x="460" y="649"/><use href="#WC" x="462" y="625"/><use href="#WC" x="463" y="631"/><use href="#WC" x="467" y="607"/><use href="#WC" x="473" y="607"/><use href="#WC" x="485" y="607"/><use href="#WC" x="500" y="607"/><use href="#WC" x="513" y="607"/><use href="#WC" x="547" y="607"/><use href="#WC" x="578" y="607"/>
</svg>
<!-- row 4 labels -->
<g font-size="15.5">
<text x="61" y="635">BT</text><text x="130" y="646">EB</text><text x="64" y="730">DH</text>
<text x="202.7" y="635">BT</text><text x="256.7" y="638">EB</text><text x="207" y="730">DH</text>
<text x="385" y="643">EB</text><text x="351.7" y="690">BT</text><text x="326.7" y="730.5">DH</text>
<text x="469.3" y="631.5">EB</text><text x="468.3" y="701.5">BT</text>
</g>
<text x="490" y="631" font-size="13">(ethylbenzene)</text>
<text x="467.7" y="713.5" font-size="13">(1-benzothiophene)</text>

<!-- Axes frames & ticks -->
<g stroke="#000" stroke-width="1" fill="none">
<use href="#tk1" x="53.5" y="187"/><use href="#tk1" x="186.5" y="187"/><use href="#tk1" x="319.5" y="187"/><use href="#tk1" x="452.5" y="187"/>
<use href="#tk2" x="53.5" y="359"/><use href="#tk2" x="186.5" y="359"/><use href="#tk2" x="319.5" y="359"/><use href="#tk2" x="452.5" y="359"/>
<use href="#tk1" x="53.5" y="530"/><use href="#tk1" x="186.5" y="530"/><use href="#tk1" x="319.5" y="530"/><use href="#tk1" x="452.5" y="530"/>
<use href="#tk4" x="53.5" y="740"/><use href="#tk4" x="186.5" y="740"/><use href="#tk4" x="319.5" y="740"/><use href="#tk4" x="452.5" y="740"/>
</g>
</svg>
</body></html>
